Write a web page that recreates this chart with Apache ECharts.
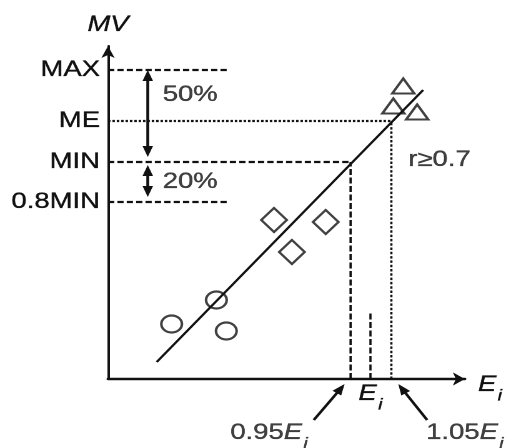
<!DOCTYPE html>
<html>
<head>
<meta charset="utf-8">
<script src="https://cdn.jsdelivr.net/npm/echarts@6/dist/echarts.min.js"></script>
<style>
  html, body { margin: 0; padding: 0; background: #fff; overflow: hidden; }
  /* the chart is laid out on a narrower canvas and widened to the page */
  #chart { width: 405px; height: 448px; transform: scaleX(1.249383); transform-origin: 0 0; }
</style>
</head>
<body>
<div id="chart"></div>
<script>
// MV reference levels
const levelNames = ['0.8MIN', 'MIN', 'ME', 'MAX'];
const levelValues = [177, 217, 258, 309];
// positions along the Ei axis
const eNames = ['0.95Ei', 'Ei', '1.05Ei'];
const eValues = [244, 264, 285];
const eiMarkTop = 67;       // height of the short Ei mark
const shortGuideEnd = 120;  // end of the MAX / 0.8MIN guides

// sample groups (Ei, MV)
const circles = [[109, 79], [64, 55], [119, 48]];
const diamonds = [[167, 159], [185, 127], [219, 157]];
const triangles = [[297, 293], [287, 273], [311, 267]];
// regression line end points
const fitLine = [[49, 17], [317, 289]];

// double-headed range arrows and single pointers: x1, y1, x2, y2, bothHeads
const rangeArrows = [[40, 309, 40, 222, 1], [40, 214, 40, 182, 1]];
const pointerArrows = [[207, -41, 238, -5, 0], [321, -41, 292, -5, 0]];

// free text
const notes = [
  { name: '50%', value: [55, 284] },
  { name: '20%', value: [55, 197] },
  { name: 'r≥0.7', value: [302, 219] },
  { name: '{e|0.95}{ei|E}{s|i}', value: [123, -55] },
  { name: '{e|1.05}{ei|E}{s|i}', value: [320, -55] }
];

const INK = '#111';
const FONT = '"Liberation Sans", Arial, Helvetica, sans-serif';
const S = 506 / 405;
const TXT = { textBorderColor: INK, textBorderWidth: 0.35 };

const richE = {
  e: Object.assign({ fontSize: 22, lineHeight: 24, verticalAlign: 'top', fontFamily: FONT, color: INK }, TXT),
  ei: Object.assign({ fontSize: 22, lineHeight: 24, verticalAlign: 'top', fontStyle: 'italic', fontFamily: FONT, color: INK }, TXT),
  s: Object.assign({ fontSize: 16, lineHeight: 16, verticalAlign: 'top', fontStyle: 'italic', fontFamily: FONT, color: INK, padding: [14, 0, 0, 1] }, TXT)
};

function guide(name, pts, type, width) {
  return {
    type: 'line', name: name, data: pts, symbol: 'none', silent: true,
    lineStyle: { color: INK, width: width, type: type }, z: 1
  };
}

const guides = [];
levelValues.forEach((v, i) => {
  const end = levelNames[i] === 'ME' ? eValues[2] : levelNames[i] === 'MIN' ? eValues[0] : shortGuideEnd;
  const dotted = levelNames[i] === 'ME';
  guides.push(guide(levelNames[i], [[0, v], [end, v]], dotted ? [2, 1.5] : [5, 2.5], 2.2));
});
guides.push(guide(eNames[0], [[eValues[0], 0], [eValues[0], levelValues[1]]], [6, 2.5], 1.8));
guides.push(guide(eNames[1], [[eValues[1], 0], [eValues[1], eiMarkTop]], [6, 2.5], 1.8));
guides.push(guide(eNames[2], [[eValues[2], 0], [eValues[2], levelValues[2]]], [2.5, 1.8], 1.8));

function markerSeries(name, data, symbol, size) {
  return {
    type: 'scatter', name: name, data: data, symbol: symbol, symbolSize: size, silent: true,
    itemStyle: { color: 'rgba(0,0,0,0)', borderColor: INK, borderWidth: 2.1 }, z: 3
  };
}

function renderArrow(params, api) {
  const a = api.coord([api.value(0), api.value(1)]);
  const b = api.coord([api.value(2), api.value(3)]);
  const both = api.value(4) === 1;
  const L = 11, W = 4.2;
  const dx = b[0] - a[0], dy = b[1] - a[1];
  const len = Math.hypot(dx, dy);
  const ux = dx / len, uy = dy / len;
  const head = (tip, px, py) => {
    const bx = tip[0] - px * L, by = tip[1] - py * L;
    return {
      type: 'polygon',
      shape: { points: [tip, [bx - py * W, by + px * W], [bx + py * W, by - px * W]] },
      style: { fill: INK }
    };
  };
  const start = both ? [a[0] + ux * (L - 2), a[1] + uy * (L - 2)] : a;
  const end = [b[0] - ux * (L - 2), b[1] - uy * (L - 2)];
  const children = [
    { type: 'line', shape: { x1: start[0], y1: start[1], x2: end[0], y2: end[1] }, style: { stroke: INK, lineWidth: 2.3 } },
    head(b, ux, uy)
  ];
  if (both) children.push(head(a, -ux, -uy));
  return { type: 'group', children: children };
}

const chart = echarts.init(document.getElementById('chart'), null, { renderer: 'canvas', devicePixelRatio: 2 });
chart.setOption({
  backgroundColor: '#fff',
  animation: false,
  grid: { left: 108 / S, right: 405 - 473 / S + 4.8, top: 46, bottom: 69, containLabel: false },
  xAxis: {
    type: 'value', min: 0, max: 359,
    name: '{ei|E}{s|i}', nameLocation: 'end', nameGap: 10.5,
    nameTextStyle: { rich: richE, verticalAlign: 'middle', padding: [14, 0, 0, 0] },
    splitLine: { show: false }, axisTick: { show: false },
    axisLine: { lineStyle: { color: INK, width: 2.4 }, symbol: ['none', 'arrow'], symbolSize: [10, 9.6] },
    axisLabel: {
      customValues: [eValues[1]], margin: 4,
      formatter: () => '{ei|E}{s|i}', rich: richE
    }
  },
  yAxis: {
    type: 'value', min: 0, max: 333,
    name: 'MV', nameLocation: 'end', nameGap: 10,
    nameTextStyle: Object.assign({ fontSize: 22, fontStyle: 'italic', fontFamily: FONT, color: INK, align: 'center' }, TXT),
    splitLine: { show: false }, axisTick: { show: false },
    axisLine: { lineStyle: { color: INK, width: 2 }, symbol: ['none', 'arrow'], symbolSize: [8, 12] },
    axisLabel: Object.assign({
      customValues: levelValues, margin: 6.4,
      fontSize: 22, fontFamily: FONT, color: INK,
      formatter: (v) => levelNames[levelValues.indexOf(v)]
    }, TXT)
  },
  series: [
    ...guides,
    {
      type: 'line', name: 'fit', data: fitLine, symbol: 'none', silent: true,
      lineStyle: { color: INK, width: 2 }, z: 2
    },
    markerSeries('low', circles, 'circle', [16.5, 17]),
    markerSeries('mid', diamonds, 'diamond', [20.4, 24]),
    markerSeries('high', triangles, 'triangle', [17.6, 15]),
    {
      type: 'custom', name: 'arrows', data: rangeArrows.concat(pointerArrows),
      renderItem: renderArrow, silent: true, clip: false, z: 4
    },
    {
      type: 'scatter', name: 'notes', data: notes, symbolSize: 0, silent: true, clip: false,
      label: Object.assign({
        show: true, position: 'right', distance: 0, formatter: '{b}',
        fontSize: 22, fontFamily: FONT, color: INK, rich: richE
      }, TXT),
      z: 5
    }
  ]
});
</script>
</body>
</html>
